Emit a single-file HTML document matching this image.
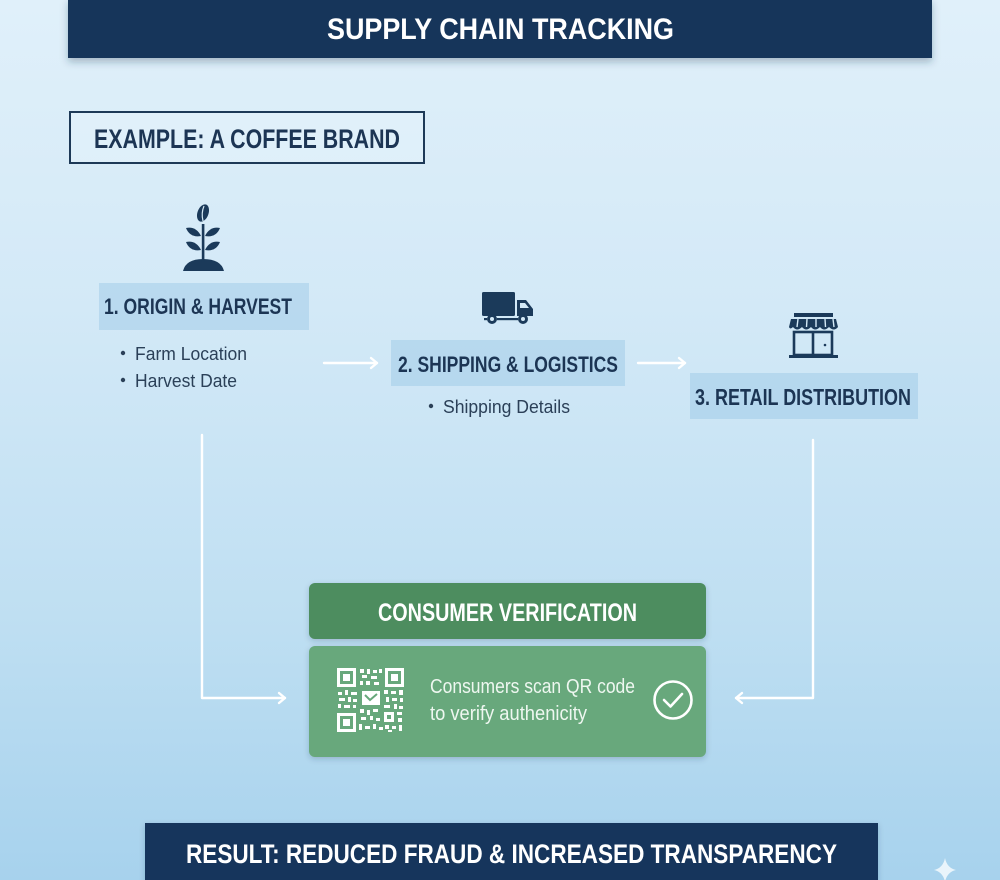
<!DOCTYPE html>
<html>
<head>
<meta charset="utf-8">
<style>
html,body{margin:0;padding:0;width:1000px;height:880px;overflow:hidden;}
svg{display:block;}
text{font-family:"Liberation Sans Narrow","Liberation Sans",sans-serif;}
</style>
</head>
<body>
<svg width="1000" height="880" viewBox="0 0 1000 880" xmlns="http://www.w3.org/2000/svg">
<defs>
<linearGradient id="bg" x1="0" y1="0" x2="0" y2="1">
<stop offset="0" stop-color="#e0f0fa"/>
<stop offset="0.35" stop-color="#d3e9f7"/>
<stop offset="0.7" stop-color="#bfdff2"/>
<stop offset="1" stop-color="#a7d2ed"/>
</linearGradient>
<filter id="sh" x="-10%" y="-20%" width="120%" height="160%">
<feDropShadow dx="0" dy="4" stdDeviation="4" flood-color="#1a3550" flood-opacity="0.3"/>
</filter>
<filter id="sh2" x="-10%" y="-20%" width="120%" height="160%">
<feDropShadow dx="0" dy="2" stdDeviation="3" flood-color="#1a3550" flood-opacity="0.22"/>
</filter>
</defs>
<rect x="0" y="0" width="1000" height="880" fill="url(#bg)"/>

<!-- Title banner -->
<rect x="68" y="-2" width="864" height="60" fill="#12365a" filter="url(#sh)"/>
<text x="327" y="39" font-size="30" font-weight="bold" fill="#ffffff" textLength="347" lengthAdjust="spacingAndGlyphs">SUPPLY CHAIN TRACKING</text>

<!-- Example box -->
<rect x="70" y="112" width="354" height="51" fill="#e2f1fa" fill-opacity="0.6" stroke="#1d3957" stroke-width="2"/>
<text x="94" y="148" font-size="27" font-weight="bold" fill="#1c3554" textLength="306" lengthAdjust="spacingAndGlyphs">EXAMPLE: A COFFEE BRAND</text>

<!-- Plant icon -->
<g fill="#1b3a5a">
<ellipse cx="203" cy="213" rx="5.5" ry="9" transform="rotate(20 203 213)"/>
<path d="M183 271 Q186 259 203 259 Q221 259 224 271 Z"/>
<rect x="201.8" y="224" width="2.6" height="38"/>
<path d="M201 236 Q196 226 186 228 Q190 238 201 236 Z"/>
<path d="M205 236 Q210 226 220 228 Q216 238 205 236 Z"/>
<path d="M201 250 Q196 240 186 242 Q190 252 201 250 Z"/>
<path d="M205 250 Q210 240 220 242 Q216 252 205 250 Z"/>
</g>
<path d="M204 206 Q201 213 203 221" stroke="#d6eaf6" stroke-width="1.2" fill="none"/>

<!-- Step 1 -->
<rect x="99" y="283" width="210" height="47" fill="#8ec1e2" fill-opacity="0.38"/>
<text x="104" y="314" font-size="22" font-weight="bold" fill="#1c3554" textLength="188" lengthAdjust="spacingAndGlyphs">1. ORIGIN &amp; HARVEST</text>
<circle cx="123" cy="353" r="2.2" fill="#2b4058"/>
<text x="135" y="360" font-size="18" fill="#2b4058" textLength="112" lengthAdjust="spacingAndGlyphs">Farm Location</text>
<circle cx="123" cy="380" r="2.2" fill="#2b4058"/>
<text x="135" y="387" font-size="18" fill="#2b4058" textLength="102" lengthAdjust="spacingAndGlyphs">Harvest Date</text>

<!-- Truck icon -->
<g fill="#1b3a5a">
<rect x="482" y="292" width="33" height="24" rx="1.5"/>
<path d="M517 300 H526 L533 309 V316 H517 Z"/>
<circle cx="492" cy="319" r="5"/>
<circle cx="523" cy="319" r="5"/>
<rect x="497" y="318" width="21" height="2.2"/>
<rect x="484" y="318" width="3" height="2.2"/>
</g>
<circle cx="492" cy="319" r="2" fill="#d3e9f7"/>
<circle cx="523" cy="319" r="2" fill="#d3e9f7"/>
<path d="M520 303 H525 L529 308 H520 Z" fill="#d3e9f7"/>

<!-- Step 2 -->
<rect x="391" y="340" width="234" height="46" fill="#8ec1e2" fill-opacity="0.38"/>
<text x="398" y="372" font-size="22" font-weight="bold" fill="#1c3554" textLength="220" lengthAdjust="spacingAndGlyphs">2. SHIPPING &amp; LOGISTICS</text>
<circle cx="431" cy="406" r="2.2" fill="#2b4058"/>
<text x="443" y="413" font-size="18" fill="#2b4058" textLength="127" lengthAdjust="spacingAndGlyphs">Shipping Details</text>

<!-- Store icon -->
<g fill="#1b3a5a">
<rect x="794" y="313" width="39" height="4"/>
<path d="M791 319 H836 L838 327 Q834 332 829 327 Q824 332 820 327 Q815 332 811 327 Q806 332 802 327 Q797 332 793 327 Q790 330 789 327 Z"/>
<rect x="789" y="355" width="49" height="3"/>
</g>
<g fill="none" stroke="#1b3a5a" stroke-width="2.6">
<rect x="794" y="332" width="38" height="23"/>
<line x1="813" y1="332" x2="813" y2="355"/>
</g>
<rect x="796" y="319" width="3" height="8" fill="#d3e9f7" opacity="0.0"/>
<circle cx="825" cy="345" r="1.3" fill="#1b3a5a"/>
<path d="M798 319 L797 327 M807 319 L806.5 327 M816 319 L816 327 M825 319 L825.5 327 M833 319 L834 327" stroke="#d3e9f7" stroke-width="1.4"/>

<!-- Step 3 -->
<rect x="690" y="373" width="228" height="46" fill="#8ec1e2" fill-opacity="0.38"/>
<text x="695" y="405" font-size="23" font-weight="bold" fill="#1c3554" textLength="216" lengthAdjust="spacingAndGlyphs">3. RETAIL DISTRIBUTION</text>

<!-- Connectors -->
<g stroke="#ffffff" stroke-width="2.4" fill="none" stroke-linecap="round" stroke-linejoin="round">
<path d="M324 363 H377"/>
<path d="M371 358 L377 363 L371 368"/>
<path d="M638 363 H685"/>
<path d="M679 358 L685 363 L679 368"/>
<path d="M202 435 V698 H285"/>
<path d="M279 693 L285 698 L279 703"/>
<path d="M813 440 V698 H736"/>
<path d="M742 693 L736 698 L742 703"/>
</g>

<!-- Consumer verification -->
<rect x="309" y="583" width="397" height="56" rx="6" fill="#4d8d5e" filter="url(#sh2)"/>
<text x="378" y="621" font-size="25" font-weight="bold" fill="#ffffff" textLength="259" lengthAdjust="spacingAndGlyphs">CONSUMER VERIFICATION</text>
<rect x="309" y="646" width="397" height="111" rx="6" fill="#67a87b" filter="url(#sh2)"/>

<!-- QR code -->
<g fill="#ffffff">
<g fill="none" stroke="#ffffff" stroke-width="3">
<rect x="338.5" y="669.5" width="16" height="16"/>
<rect x="386.5" y="669.5" width="16" height="16"/>
<rect x="338.5" y="714.5" width="16" height="16"/>
</g>
<rect x="343" y="674" width="7" height="7"/>
<rect x="391" y="674" width="7" height="7"/>
<rect x="343" y="719" width="7" height="7"/>
<rect x="360" y="669" width="4" height="4"/><rect x="367" y="669" width="3" height="5"/><rect x="373" y="670" width="4" height="3"/><rect x="379" y="669" width="3" height="4"/>
<rect x="362" y="675" width="5" height="3"/><rect x="371" y="676" width="6" height="3"/><rect x="360" y="681" width="3" height="4"/><rect x="366" y="681" width="4" height="4"/><rect x="374" y="682" width="5" height="3"/>
<rect x="338" y="692" width="4" height="3"/><rect x="345" y="690" width="3" height="5"/><rect x="351" y="692" width="6" height="3"/>
<rect x="339" y="698" width="6" height="3"/><rect x="348" y="697" width="3" height="5"/><rect x="353" y="699" width="4" height="3"/>
<rect x="338" y="704" width="3" height="4"/><rect x="344" y="705" width="6" height="3"/><rect x="353" y="705" width="3" height="3"/>
<path d="M362 691 H380 V705 H362 Z"/>
<rect x="384" y="690" width="4" height="4"/><rect x="391" y="691" width="5" height="3"/><rect x="399" y="690" width="4" height="5"/>
<rect x="386" y="697" width="3" height="5"/><rect x="392" y="698" width="5" height="3"/><rect x="400" y="698" width="3" height="4"/>
<rect x="384" y="705" width="6" height="3"/><rect x="394" y="704" width="3" height="5"/><rect x="399" y="706" width="4" height="3"/>
<rect x="360" y="709" width="4" height="4"/><rect x="367" y="710" width="3" height="5"/><rect x="373" y="709" width="5" height="3"/>
<rect x="361" y="717" width="5" height="3"/><rect x="370" y="716" width="3" height="4"/><rect x="376" y="718" width="4" height="3"/>
<rect x="359" y="724" width="3" height="6"/><rect x="365" y="726" width="5" height="3"/><rect x="373" y="724" width="3" height="5"/><rect x="379" y="727" width="4" height="3"/>
<path d="M384 712 H394 V722 H384 Z M387 715 V719 H391 V715 Z" fill-rule="evenodd"/>
<rect x="397" y="712" width="5" height="3"/><rect x="398" y="718" width="4" height="4"/>
<rect x="385" y="725" width="4" height="4"/><rect x="392" y="726" width="4" height="3"/><rect x="399" y="725" width="3" height="6"/><rect x="388" y="730" width="4" height="2"/>
</g>
<path d="M365 695 L370 700 L377 694" stroke="#67a87b" stroke-width="2" fill="none"/>

<text x="430" y="693" font-size="20" fill="#eef7f0" textLength="205" lengthAdjust="spacingAndGlyphs">Consumers scan QR code</text>
<text x="430" y="720" font-size="20" fill="#eef7f0" textLength="157" lengthAdjust="spacingAndGlyphs">to verify authenicity</text>

<circle cx="673" cy="700" r="18.5" fill="none" stroke="#ffffff" stroke-width="2.6"/>
<path d="M664 700 L670.5 706.5 L682 694" fill="none" stroke="#ffffff" stroke-width="2.6" stroke-linecap="round" stroke-linejoin="round"/>

<!-- Result banner -->
<rect x="145" y="823" width="733" height="60" fill="#13365b" filter="url(#sh2)"/>
<text x="186" y="863" font-size="27" font-weight="bold" fill="#ffffff" textLength="651" lengthAdjust="spacingAndGlyphs">RESULT: REDUCED FRAUD &amp; INCREASED TRANSPARENCY</text>

<!-- sparkle -->
<path d="M945 858 Q947 868 956 870 Q947 872 945 882 Q943 872 934 870 Q943 868 945 858 Z" fill="#ffffff" opacity="0.75"/>
</svg>
</body>
</html>
